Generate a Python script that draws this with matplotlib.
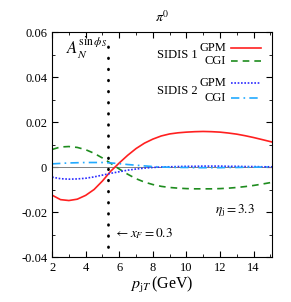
import numpy as np
import matplotlib.pyplot as plt

plt.rcParams['font.family'] = 'Liberation Serif'
plt.rcParams['mathtext.fontset'] = 'stix'

pt = [2, 2.5, 3, 3.5, 4, 4.5, 5, 5.5, 6, 6.5, 7, 7.5, 8, 8.5, 9, 9.5, 10,
      10.5, 11, 11.5, 12, 12.5, 13, 13.5, 14, 14.5, 15.1]
gpm1 = [-0.0125, -0.0145, -0.0149, -0.0143, -0.0126, -0.0100, -0.0062, -0.0018,
        0.0018, 0.0052, 0.0082, 0.0106, 0.0124, 0.0138, 0.0147, 0.0152, 0.0155,
        0.0157, 0.0158, 0.0157, 0.0155, 0.0151, 0.0146, 0.0139, 0.0131, 0.0122, 0.0111]
cgi1 = [0.0078, 0.0089, 0.0091, 0.0087, 0.0077, 0.0061, 0.0040, 0.0016,
        -0.0009, -0.0032, -0.0052, -0.0067, -0.0078, -0.0086, -0.0091, -0.0094, -0.0096,
        -0.0097, -0.0097, -0.0097, -0.0096, -0.0094, -0.0091, -0.0087, -0.0082, -0.0076, -0.0068]
gpm2 = [-0.0045, -0.0052, -0.0054, -0.0053, -0.0050, -0.0044, -0.0036, -0.0028,
        -0.0021, -0.0014, -0.0009, -0.0005, -0.0002, 0.0, 0.0001, 0.0002, 0.0003,
        0.0003, 0.0004, 0.0004, 0.0004, 0.0003, 0.0003, 0.0002, 0.0002, 0.0001, 0.0001]
cgi2 = [0.0014, 0.0016, 0.0018, 0.0019, 0.0020, 0.0020, 0.0020, 0.0018,
        0.0015, 0.0011, 0.0008, 0.0005, 0.0002, 0.0, -0.0001, -0.0002, -0.0002,
        -0.0003, -0.0003, -0.0003, -0.0003, -0.0002, -0.0002, -0.0001, -0.0001, 0.0, 0.0]
xF_pt = 5.35

fig = plt.figure(figsize=(2.91, 3.02), dpi=100)
ax = fig.add_axes([0.179, 0.149, 0.756, 0.745])

ax.axhline(0, color='grey', lw=0.7)
ax.plot(pt, gpm1, color='#ff2020', lw=1.2)
ax.plot(pt, cgi1, color='#1e8c1e', lw=1.2, dashes=(4, 3))
ax.plot(pt, gpm2, color='#2a2aff', lw=1.2, dashes=(1, 1))
ax.plot(pt, cgi2, color='#22aaff', lw=1.2, dashes=(5, 2.5, 1, 2.5))
ax.plot([xF_pt, xF_pt], [-0.0355, 0.0555], color='black', lw=2.0,
        dashes=(0.2, 3.8), dash_capstyle='round')

ax.set_xlim(2, 15.1)
ax.set_ylim(-0.04, 0.06)
ax.set_xticks([2, 4, 6, 8, 10, 12, 14])
ax.set_xticks(np.arange(3, 16, 2), minor=True)
ax.set_yticks([-0.04, -0.02, 0, 0.02, 0.04, 0.06])
ax.set_yticklabels(['-0.04', '-0.02', '0', '0.02', '0.04', '0.06'])
ax.set_yticks([-0.03, -0.01, 0.01, 0.03, 0.05], minor=True)
ax.tick_params(which='both', direction='in', top=True, right=True, labelsize=9)
ax.tick_params(which='major', length=4)
ax.tick_params(which='minor', length=2.5)

ax.set_title(r'$\pi^0$', fontsize=10, pad=7)
ax.set_xlabel(r'$p_{\mathrm{j}T}\,$(GeV)', fontsize=11.5, labelpad=1)

ax.text(2.8, 0.0505, r'$A_N^{\sin\phi_S}$', fontsize=12)
ax.text(5.7, -0.0313, r'$\leftarrow x_F = 0.3$', fontsize=9.5)
ax.text(11.7, -0.0205, r'$\eta_{\mathrm{j}} = 3.3$', fontsize=9.5)

# legend drawn by hand
for lab, y in [('SIDIS 1', 0.0497), ('SIDIS 2', 0.0337)]:
    ax.text(8.25, y, lab, fontsize=9, va='center')
leg = [('GPM', 0.0530, '#ff2020', None), ('CGI', 0.0470, '#1e8c1e', (4, 3)),
       ('GPM', 0.0372, '#2a2aff', (1, 1)), ('CGI', 0.0306, '#22aaff', (5, 2.5, 1, 2.5))]
for lab, y, c, d in leg:
    ax.text(12.35, y, lab, fontsize=9, va='center', ha='right')
    ln, = ax.plot([12.65, 14.45], [y, y], color=c, lw=1.2)
    if d:
        ln.set_dashes(d)

fig.savefig('out.png', dpi=100)
